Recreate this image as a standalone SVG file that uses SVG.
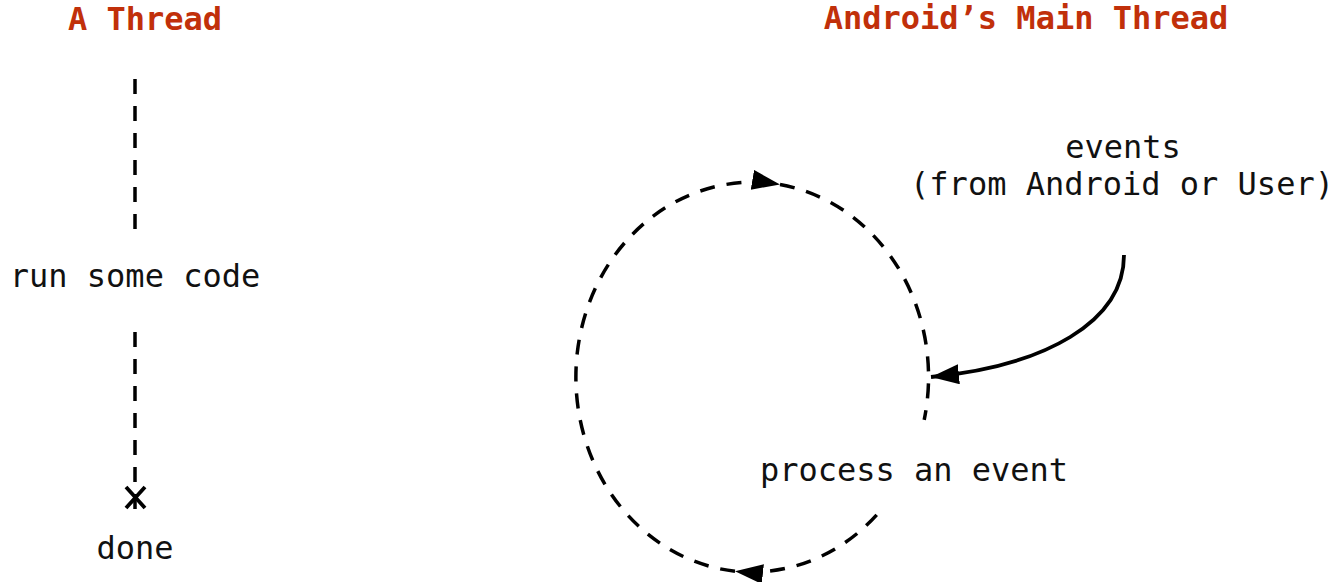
<svg xmlns="http://www.w3.org/2000/svg" width="1342" height="582" viewBox="0 0 1342 582">
<style>
text{font-family:"DejaVu Sans Mono","Liberation Mono",monospace;font-size:32px;fill:#111;text-anchor:middle}
.title{font-weight:bold;fill:#c1300a}
.dash{fill:none;stroke:#000;stroke-width:3.5;stroke-dasharray:15 12}
.solid{fill:none;stroke:#000;stroke-width:3.8}
</style>
<defs>
<marker id="arrow" markerUnits="userSpaceOnUse" markerWidth="32" markerHeight="22" refX="28" refY="10" orient="auto">
<path d="M0,0 L28,10 L0,20 z" fill="#000"/>
</marker>
</defs>
<g id="titles">
<text class="title" x="145" y="30">A Thread</text>
<text class="title" x="1026" y="29">Android’s Main Thread</text>
</g>
<g id="connectors">
<line class="dash" x1="135" y1="79" x2="135" y2="236"/>
<line class="dash" x1="135" y1="332" x2="135" y2="514"/>
<path class="solid" d="M126,487 L145,508 M145,487 L126,508" stroke-width="5"/>
<path class="dash" d="M876.7,514.9 A177 195 0 0 1 735,571.2" marker-end="url(#arrow)"/>
<path class="dash" d="M735,571.2 A177 195 0 1 1 780,184.5" marker-end="url(#arrow)"/>
<path class="dash" d="M780,184.5 A177 195 0 0 1 924.2,419.9"/>
<path class="solid" d="M1124,255 C1124,322 1045,366 931,377" marker-end="url(#arrow)"/>
</g>
<g id="node-run">
<text x="135" y="287">run some code</text>
</g>
<g id="node-done">
<text x="135" y="559">done</text>
</g>
<g id="node-events">
<text x="1123" y="158">events</text>
<text x="1122" y="195">(from Android or User)</text>
</g>
<g id="node-process">
<text x="914" y="481">process an event</text>
</g>
</svg>
